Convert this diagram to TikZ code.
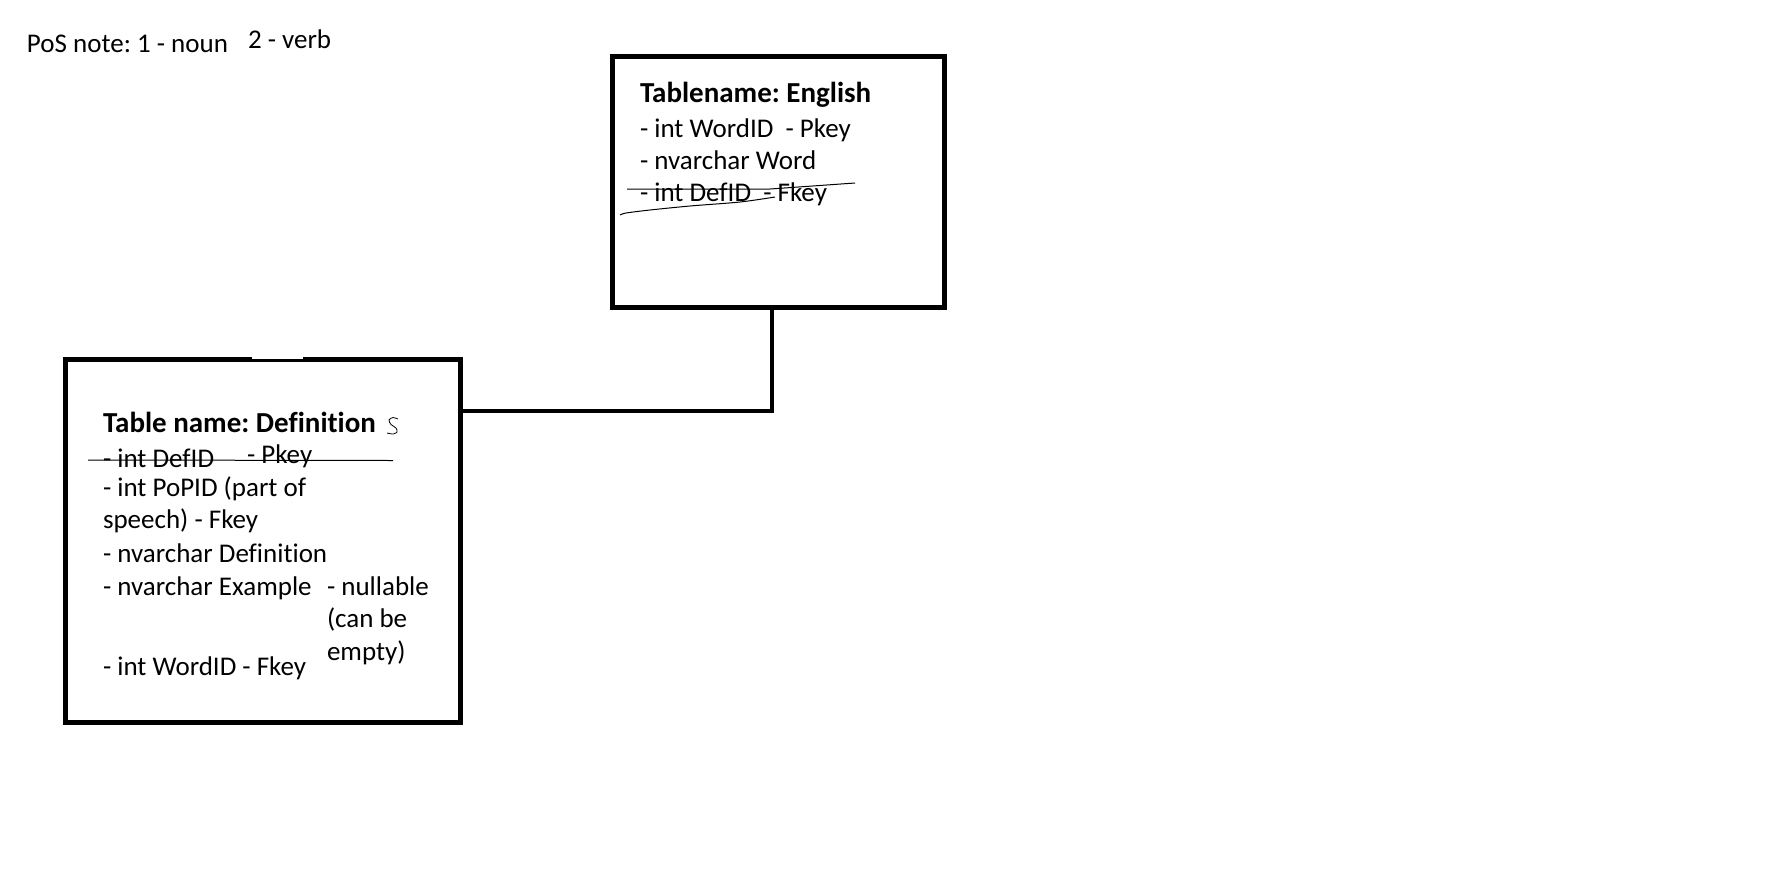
\documentclass[tikz,border=0pt]{standalone}
\usepackage{fontspec}
\setmainfont[Ligatures=NoCommon]{Carlito}
\frenchspacing
\begin{document}
\begin{tikzpicture}[x=1pt,y=-1pt,
  tablebox/.style={draw=black,line width=5pt,rectangle,inner sep=0pt,outer sep=0pt},
  conn/.style={draw=black,line width=4.5pt},
  txt/.style={anchor=base west,inner sep=0pt,outer sep=0pt,font=\fontsize{27}{32}\selectfont},
  ttl/.style={anchor=base west,inner sep=0pt,outer sep=0pt,font=\fontsize{29}{32}\selectfont\bfseries},
  strike/.style={draw=black,line width=1pt},
]
\useasboundingbox (0,0) rectangle (1780,892);
\fill[white] (0,0) rectangle (1780,892);

% note
\node[txt] (note1) at (27,52) {PoS note: 1 - noun};
\node[txt] (note2) at (248,48) {2 - verb};

% English table
\node[tablebox,minimum width=332pt,minimum height=251pt] (eng) at (778.5,182) {};
\node[ttl] (engt) at (640,102) {Tablename: English};
\node[txt] (eng1) at (640,137) {- int WordID\ \ - Pkey};
\node[txt] (eng2) at (640,169) {- nvarchar Word};
\node[txt] (eng3) at (640,201) {- int DefID\ \ - Fkey};
\draw[strike] (627,189) -- (770,189) -- (855,183);
\draw[strike] plot[smooth] coordinates {(620,215) (626,213) (650,210) (690,206) (740,202) (775,197)};

% Definition table
\node[tablebox,minimum width=395pt,minimum height=363pt] (def) at (263,541) {};
\fill[white] (252,355) rectangle (303,358.5);
\node[ttl] (deft) at (103,432) {Table name: Definition};
\draw[line width=0.8pt] plot[smooth] coordinates {(398,419) (393,417.5) (389,420) (391,424.5) (396,428) (397,432) (393,434) (387,433)};
\node[txt] (def1) at (103,467) {- int DefID};
\node[txt] (def1b) at (247,463) {- Pkey};
\draw[strike] (88,460) -- (393,460.5);
\node[txt] (def2) at (103,496) {- int PoPID (part of};
\node[txt] (def3) at (103,528) {speech) - Fkey};
\node[txt] (def4) at (103,562) {- nvarchar Definition};
\node[txt] (def5) at (103,595) {- nvarchar Example};
\node[txt] (def5a) at (327,595) {- nullable};
\node[txt] (def5b) at (327,627) {(can be};
\node[txt] (def5c) at (327,660) {empty)};
\node[txt] (def6) at (103,675) {- int WordID - Fkey};

% connector
\coordinate (bend) at (772,411);
\draw[conn] ([xshift=-6.5pt]eng.south) |- (def.east |- bend);
\end{tikzpicture}
\end{document}
